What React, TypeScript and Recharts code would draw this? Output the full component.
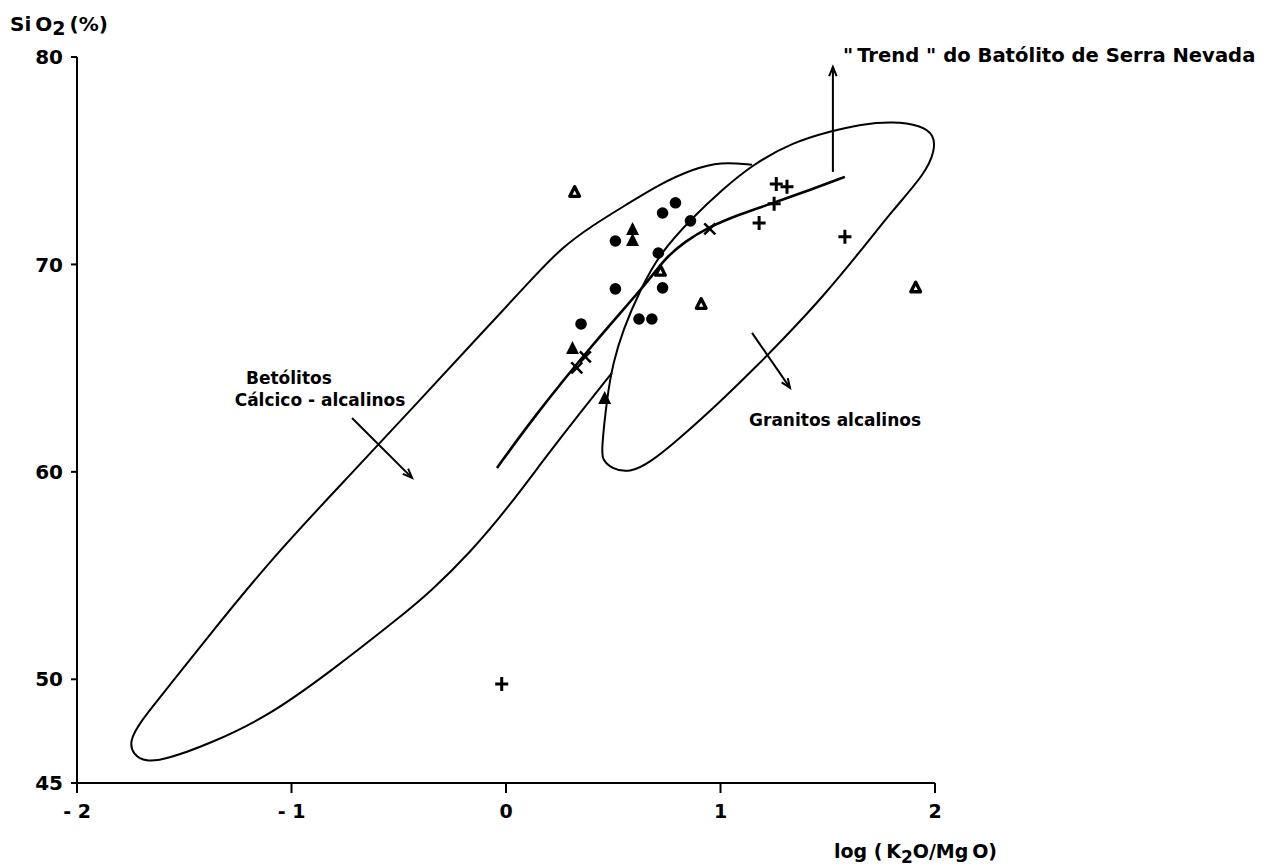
import React from "react";
import {
  ComposedChart,
  Line,
  Scatter,
  XAxis,
  YAxis,
  ReferenceLine,
  ReferenceDot,
} from "recharts";

type Pt = { x: number; y: number };

const xTicks = [-2, -1, 0, 1, 2];
const yTicks = [45, 50, 60, 70, 80];

// amostras (log K2O/MgO, SiO2 %)
const openTriangles: Pt[] = [
  { x: 0.32, y: 73.5 },
  { x: 0.72, y: 69.7 },
  { x: 0.91, y: 68.1 },
  { x: 1.91, y: 68.9 },
];

const filledTriangles: Pt[] = [
  { x: 0.59, y: 71.71 },
  { x: 0.59, y: 71.18 },
  { x: 0.31, y: 65.97 },
  { x: 0.46, y: 63.56 },
];

const filledCircles: Pt[] = [
  { x: 0.79, y: 72.97 },
  { x: 0.73, y: 72.48 },
  { x: 0.86, y: 72.1 },
  { x: 0.51, y: 71.13 },
  { x: 0.71, y: 70.55 },
  { x: 0.51, y: 68.82 },
  { x: 0.73, y: 68.87 },
  { x: 0.62, y: 67.37 },
  { x: 0.68, y: 67.37 },
  { x: 0.35, y: 67.13 },
];

const crosses: Pt[] = [
  { x: 0.95, y: 71.71 },
  { x: 0.37, y: 65.54 },
  { x: 0.33, y: 65.01 },
];

const pluses: Pt[] = [
  { x: 1.26, y: 73.88 },
  { x: 1.31, y: 73.74 },
  { x: 1.25, y: 72.92 },
  { x: 1.18, y: 72.0 },
  { x: 1.58, y: 71.33 },
  { x: -0.02, y: 49.77 },
];

// campo dos batolitos calcico-alcalinos (aberto, fecha na borda do campo alcalino)
const calcAlkalineOutline: Pt[] = [
  { x: 0.494, y: 64.77 },
  { x: 0.331, y: 62.65 },
  { x: 0.182, y: 60.67 },
  { x: 0.019, y: 58.4 },
  { x: -0.168, y: 56.09 },
  { x: -0.354, y: 54.21 },
  { x: -0.494, y: 53.0 },
  { x: -0.821, y: 50.35 },
  { x: -1.114, y: 48.18 },
  { x: -1.38, y: 46.9 },
  { x: -1.58, y: 46.15 },
  { x: -1.68, y: 46.0 },
  { x: -1.74, y: 46.4 },
  { x: -1.755, y: 47.0 },
  { x: -1.71, y: 47.9 },
  { x: -1.566, y: 49.73 },
  { x: -1.427, y: 51.56 },
  { x: -1.1, y: 55.75 },
  { x: -0.727, y: 59.85 },
  { x: -0.401, y: 63.47 },
  { x: -0.121, y: 66.6 },
  { x: 0.112, y: 69.2 },
  { x: 0.252, y: 70.75 },
  { x: 0.406, y: 71.9 },
  { x: 0.564, y: 72.9 },
  { x: 0.718, y: 73.88 },
  { x: 0.872, y: 74.6 },
  { x: 1.0, y: 74.95 },
  { x: 1.147, y: 74.8 },
];

// campo dos granitos alcalinos (fechado)
const alkalineGraniteOutline: Pt[] = [
  { x: 0.445, y: 61.0 },
  { x: 0.471, y: 63.61 },
  { x: 0.499, y: 65.25 },
  { x: 0.545, y: 66.84 },
  { x: 0.625, y: 68.77 },
  { x: 0.718, y: 70.55 },
  { x: 0.872, y: 72.29 },
  { x: 1.007, y: 73.59 },
  { x: 1.147, y: 74.8 },
  { x: 1.338, y: 75.9 },
  { x: 1.524, y: 76.45 },
  { x: 1.65, y: 76.75 },
  { x: 1.804, y: 76.9 },
  { x: 1.935, y: 76.7 },
  { x: 1.995, y: 76.25 },
  { x: 2.0, y: 75.5 },
  { x: 1.953, y: 74.36 },
  { x: 1.804, y: 72.63 },
  { x: 1.65, y: 70.6 },
  { x: 1.464, y: 68.29 },
  { x: 1.324, y: 66.75 },
  { x: 1.184, y: 65.25 },
  { x: 0.998, y: 63.37 },
  { x: 0.797, y: 61.5 },
  { x: 0.671, y: 60.45 },
  { x: 0.578, y: 59.95 },
  { x: 0.49, y: 60.15 },
  { x: 0.45, y: 60.6 },
];

// "trend" do batolito de Serra Nevada
const serraNevadaTrend: Pt[] = [
  { x: -0.042, y: 60.19 },
  { x: 0.126, y: 62.6 },
  { x: 0.401, y: 66.12 },
  { x: 0.657, y: 69.1 },
  { x: 0.741, y: 70.3 },
  { x: 0.834, y: 71.1 },
  { x: 0.937, y: 71.76 },
  { x: 1.091, y: 72.43 },
  { x: 1.245, y: 72.96 },
  { x: 1.417, y: 73.59 },
  { x: 1.58, y: 74.22 },
];

const trendArrow: Pt[] = [
  { x: 1.524, y: 74.46 },
  { x: 1.524, y: 79.52 },
];
const calcArrow: Pt[] = [
  { x: -0.718, y: 62.6 },
  { x: -0.438, y: 59.71 },
];
const graniteArrow: Pt[] = [
  { x: 1.147, y: 66.7 },
  { x: 1.324, y: 64.05 },
];

const FONT = "'DejaVu Sans', sans-serif";

const OpenTriangle = ({ cx, cy }: any) => (
  <path
    d={`M${cx},${cy - 5} L${cx + 4.8},${cy + 4.5} L${cx - 4.8},${cy + 4.5} Z`}
    fill="#fff"
    stroke="#000"
    strokeWidth={3.4}
    strokeLinejoin="round"
  />
);

const FilledTriangle = ({ cx, cy }: any) => (
  <path
    d={`M${cx},${cy - 7} L${cx + 6.5},${cy + 6} L${cx - 6.5},${cy + 6} Z`}
    fill="#000"
  />
);

const Circle = ({ cx, cy }: any) => <circle cx={cx} cy={cy} r={5.8} fill="#000" />;

const Plus = ({ cx, cy }: any) => (
  <path
    d={`M${cx - 6.5},${cy} H${cx + 6.5} M${cx},${cy - 7} V${cy + 7}`}
    stroke="#000"
    strokeWidth={3}
  />
);

const Cross = ({ cx, cy }: any) => (
  <path
    d={`M${cx - 5.5},${cy - 5.5} L${cx + 5.5},${cy + 5.5} M${cx + 5.5},${cy - 5.5} L${cx - 5.5},${cy + 5.5}`}
    stroke="#000"
    strokeWidth={2.5}
  />
);

const arrowShape = (props: any) => {
  const { x1, y1, x2, y2 } = props;
  const a = Math.atan2(y2 - y1, x2 - x1);
  const h = 10;
  const w = 0.38;
  return (
    <g>
      <line x1={x1} y1={y1} x2={x2} y2={y2} stroke="#000" strokeWidth={2} />
      <path
        d={`M${x2 - h * Math.cos(a - w)},${y2 - h * Math.sin(a - w)} L${x2},${y2} L${
          x2 - h * Math.cos(a + w)
        },${y2 - h * Math.sin(a + w)}`}
        fill="none"
        stroke="#000"
        strokeWidth={2}
      />
    </g>
  );
};

const fmtX = (v: number) => (v < 0 ? `- ${-v}` : `${v}`);

function Note({ at, text, size = 17, position = "center" }: any) {
  return (
    <ReferenceDot
      x={at.x}
      y={at.y}
      r={0}
      fill="none"
      stroke="none"
      ifOverflow="visible"
      label={{
        value: text,
        position,
        offset: 5,
        fill: "#000",
        fontSize: size,
        fontWeight: "bold",
        fontFamily: FONT,
      }}
    />
  );
}

export default function App() {
  return (
    <div style={{ width: 1250, height: 860, background: "#fff" }}>
      <ComposedChart
        width={1250}
        height={860}
        margin={{ top: 49, right: 323, bottom: 55, left: 0 }}
      >
        <XAxis
          type="number"
          dataKey="x"
          domain={[-2, 2]}
          ticks={xTicks}
          tickFormatter={fmtX}
          height={30}
          tickSize={10}
          tickMargin={12}
          axisLine={{ stroke: "#000", strokeWidth: 2 }}
          tickLine={{ stroke: "#000", strokeWidth: 2 }}
          tick={{ fill: "#000", fontSize: 19, fontWeight: "bold", fontFamily: FONT }}
          label={{
            content: ({ viewBox }: any) => (
              <text
                x={viewBox.x + viewBox.width + 62}
                y={viewBox.y + 75}
                textAnchor="end"
                fontSize={19}
                fontWeight="bold"
                fontFamily={FONT}
                fill="#000"
              >
                log ({"\u2009"}K
                <tspan dy={5} fontSize={17}>
                  2
                </tspan>
                <tspan dy={-5}>O/Mg{"\u2009"}O)</tspan>
              </text>
            ),
          }}
        />
        <YAxis
          type="number"
          dataKey="y"
          domain={[45, 80]}
          ticks={yTicks}
          width={69}
          tickSize={6}
          tickMargin={8}
          axisLine={{ stroke: "#000", strokeWidth: 2 }}
          tickLine={{ stroke: "#000", strokeWidth: 2 }}
          tick={{ fill: "#000", fontSize: 20, fontWeight: "bold", fontFamily: FONT }}
          label={{
            content: ({ viewBox }: any) => (
              <text
                x={viewBox.x + 2}
                y={viewBox.y - 26}
                fontSize={20}
                fontWeight="bold"
                fontFamily={FONT}
                fill="#000"
              >
                Si{"\u2009"}O
                <tspan dy={4} fontSize={19}>
                  2
                </tspan>
                <tspan dy={-4}>{"\u2009"}(%)</tspan>
              </text>
            ),
          }}
        />

        <Line
          data={calcAlkalineOutline}
          dataKey="y"
          type="basis"
          stroke="#000"
          strokeWidth={2}
          dot={false}
          activeDot={false}
          isAnimationActive={false}
        />
        <Line
          data={alkalineGraniteOutline}
          dataKey="y"
          type="basisClosed"
          stroke="#000"
          strokeWidth={2}
          dot={false}
          activeDot={false}
          isAnimationActive={false}
        />
        <Line
          data={serraNevadaTrend}
          dataKey="y"
          type="basis"
          stroke="#000"
          strokeWidth={2.6}
          dot={false}
          activeDot={false}
          isAnimationActive={false}
        />

        <ReferenceLine segment={trendArrow} ifOverflow="visible" shape={arrowShape} />
        <ReferenceLine segment={calcArrow} ifOverflow="visible" shape={arrowShape} />
        <ReferenceLine segment={graniteArrow} ifOverflow="visible" shape={arrowShape} />

        <Scatter data={filledCircles} dataKey="y" shape={Circle} isAnimationActive={false} />
        <Scatter data={filledTriangles} dataKey="y" shape={FilledTriangle} isAnimationActive={false} />
        <Scatter data={openTriangles} dataKey="y" shape={OpenTriangle} isAnimationActive={false} />
        <Scatter data={crosses} dataKey="y" shape={Cross} isAnimationActive={false} />
        <Scatter data={pluses} dataKey="y" shape={Plus} isAnimationActive={false} />

        {Note({ at: { x: -1.012, y: 64.53 }, text: "Betólitos" })}
        {Note({ at: { x: -0.867, y: 63.47 }, text: "Cálcico - alcalinos" })}
        {Note({ at: { x: 1.534, y: 62.5 }, text: "Granitos alcalinos" })}
        {Note({
          at: { x: 1.548, y: 80.1 },
          text: '"\u2009Trend " do Batólito de Serra Nevada',
          size: 19.6,
          position: "right",
        })}
      </ComposedChart>
    </div>
  );
}
